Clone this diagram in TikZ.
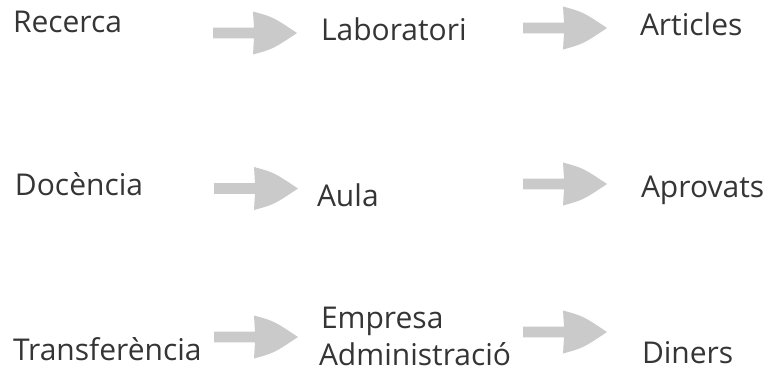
\documentclass[tikz,border=0pt]{standalone}
\usepackage{fontspec}
\setmainfont{Open Sans}
\definecolor{txt}{HTML}{353535}
\definecolor{arrowgray}{HTML}{CACACA}
\begin{document}
\begin{tikzpicture}[x=1pt,y=-1pt,
  lbl/.style={anchor=base west,inner sep=0pt,outer sep=0pt,text=txt,font=\fontsize{30}{36}\selectfont},
  garrow/.pic={
    \fill[arrowgray] (0,-5.3) -- (41,-5.3) -- (40,-21.5)
      .. controls (60,-16) .. (84,0)
      .. controls (60,16) .. (40,21.5) -- (41,5.3) -- (0,5.3) -- cycle;
  }]
\useasboundingbox (0,0) rectangle (769,372);
% row 1
\node[lbl] (rec) at (13,32) {Recerca};
\node[lbl] (lab) at (321,40) {Laboratori};
\node[lbl] (art) at (640,35) {Articles};
% row 2
\node[lbl] (doc) at (15,195) {Docència};
\node[lbl] (aul) at (317,206) {Aula};
\node[lbl] (apr) at (641,197) {Aprovats};
% row 3
\node[lbl] (tra) at (13,360) {Transferència};
\node[lbl] (emp) at (321,328) {Empresa};
\node[lbl] (adm) at (319,365) {Administració};
\node[lbl] (din) at (642,363) {Diners};
% arrows
\pic at (213,33) {garrow};
\pic at (523,28) {garrow};
\pic at (214,188.5) {garrow};
\pic at (523,184) {garrow};
\pic at (214,337) {garrow};
\pic at (523,332) {garrow};
\end{tikzpicture}
\end{document}
